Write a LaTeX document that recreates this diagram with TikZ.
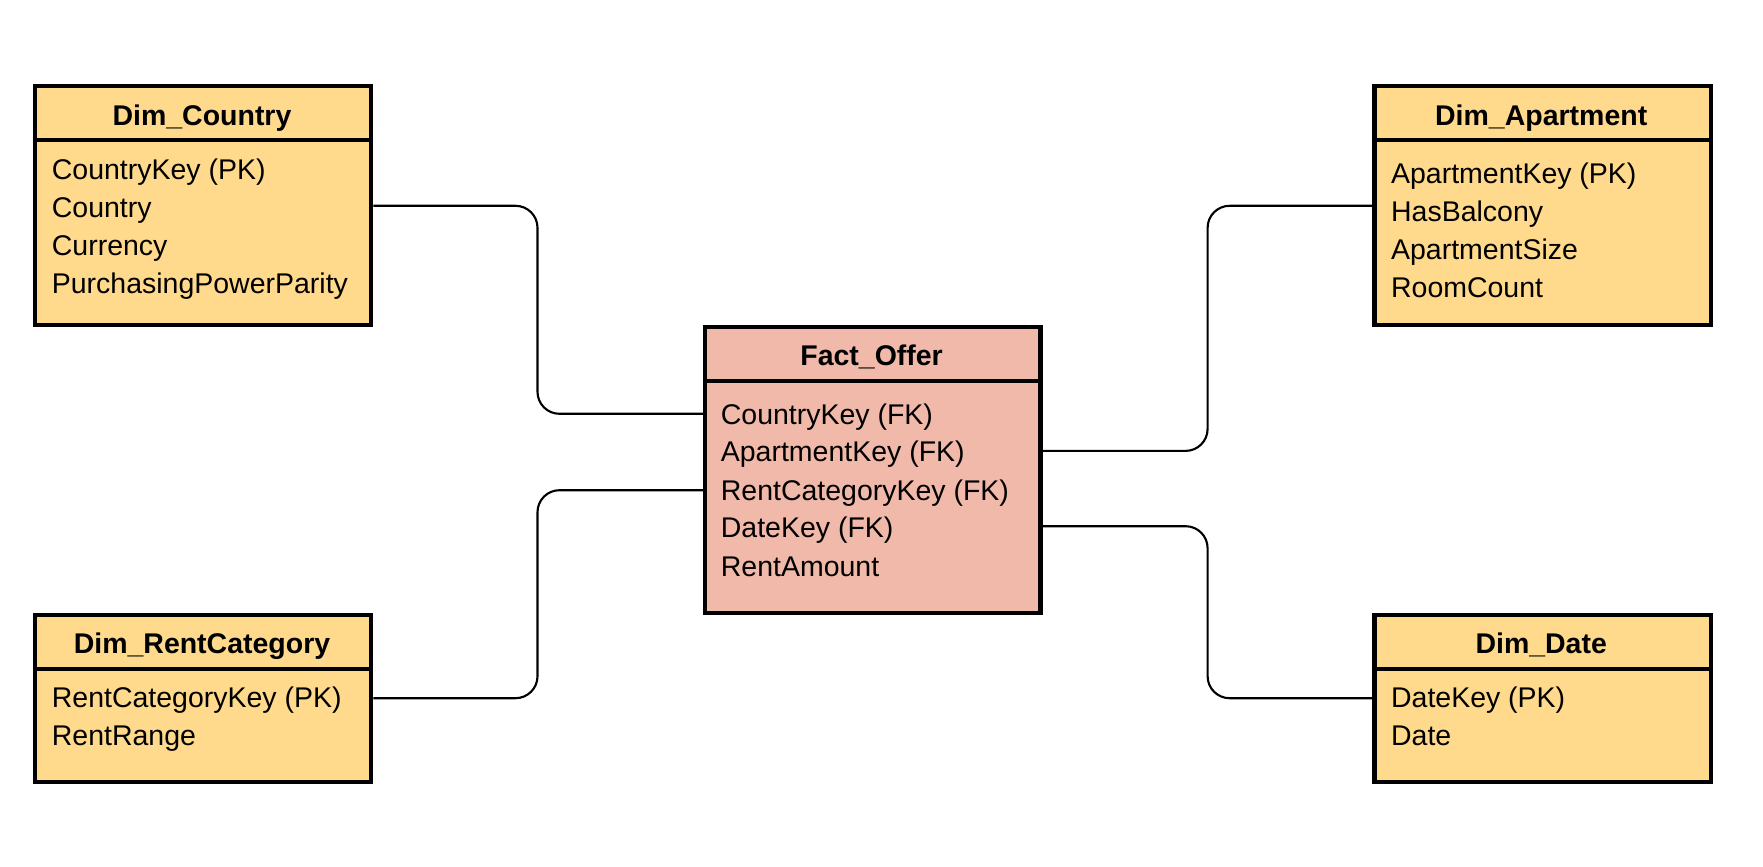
\documentclass[tikz,border=0pt]{standalone}
\usepackage{fontspec}
\setmainfont{Liberation Sans}
\usepackage{tikz}
\usepackage{xcolor}
\definecolor{dimfill}{HTML}{FFDA8C}
\definecolor{factfill}{HTML}{F0B9A9}

\begin{document}
\begin{tikzpicture}[x=0.01cm,y=-0.01cm,
  tbl/.style={draw,line width=1.2pt,anchor=north west,inner sep=0pt,minimum width=3.36cm},
  sep/.style={line width=1.2pt},
  ttl/.style={anchor=mid,inner sep=0pt,font=\bfseries\fontsize{8.1pt}{10pt}\selectfont},
  row/.style={anchor=mid west,inner sep=0pt,font=\fontsize{8.1pt}{10pt}\selectfont},
  link/.style={line width=0.6pt,rounded corners=0.22cm}]
  \useasboundingbox (0,0) rectangle (1763,867);
  \coordinate (jL) at (537.5,0);
  \coordinate (jR) at (1207.6,0);
  \coordinate (lvCty) at (0,205.8);
  \coordinate (lvFk1) at (0,413.8);
  \coordinate (lvFk2) at (0,450.9);
  \coordinate (lvFk3) at (0,490.2);
  \coordinate (lvFk4) at (0,526.2);
  \coordinate (lvLow) at (0,698.2);
  % tables
  \node[tbl,fill=dimfill,minimum height=2.39cm] (cty) at (33,84) {};
  \node[tbl,fill=dimfill,minimum height=2.39cm] (apt) at (1372.4,84) {};
  \node[tbl,fill=dimfill,minimum height=1.67cm] (rc) at (33,612.5) {};
  \node[tbl,fill=dimfill,minimum height=1.67cm] (dt) at (1372.4,612.5) {};
  \node[tbl,fill=factfill,minimum width=3.35cm,minimum height=2.86cm] (fact) at (703.2,324.7) {};
  \draw[sep] ([yshift=-0.562cm]cty.north west) -- ([yshift=-0.562cm]cty.north east);
  \draw[sep] ([yshift=-0.562cm]apt.north west) -- ([yshift=-0.562cm]apt.north east);
  \draw[sep] ([yshift=-0.562cm]rc.north west) -- ([yshift=-0.562cm]rc.north east);
  \draw[sep] ([yshift=-0.562cm]dt.north west) -- ([yshift=-0.562cm]dt.north east);
  \draw[sep] ([yshift=-0.562cm]fact.north west) -- ([yshift=-0.562cm]fact.north east);
  % titles
  \node[ttl] (ctyT) at (202,116) {Dim\_Country};
  \node[ttl] (aptT) at (1541.2,116) {Dim\_Apartment};
  \node[ttl] (rcT) at (202,644.5) {Dim\_RentCategory};
  \node[ttl] (dtT) at (1541.2,644.5) {Dim\_Date};
  \node[ttl] (factT) at (871.6,356.7) {Fact\_Offer};
  % columns
  \node[row] (cty1) at (51.2,170) {CountryKey (PK)};
  \node[row] (cty2) at (51.2,208.2) {Country};
  \node[row] (cty3) at (51.2,246.4) {Currency};
  \node[row] (cty4) at (51.2,284.6) {PurchasingPowerParity};
  \node[row] (apt1) at (1390.4,174) {ApartmentKey (PK)};
  \node[row] (apt2) at (1390.4,212.2) {HasBalcony};
  \node[row] (apt3) at (1390.4,250.4) {ApartmentSize};
  \node[row] (apt4) at (1390.4,288.6) {RoomCount};
  \node[row] (rc1) at (51.2,698) {RentCategoryKey (PK)};
  \node[row] (rc2) at (51.2,736.2) {RentRange};
  \node[row] (dt1) at (1390.4,698) {DateKey (PK)};
  \node[row] (dt2) at (1390.4,736.2) {Date};
  \node[row] (fk1) at (720.2,415) {CountryKey (FK)};
  \node[row] (fk2) at (720.2,452.5) {ApartmentKey (FK)};
  \node[row] (fk3) at (720.2,491.2) {RentCategoryKey (FK)};
  \node[row] (fk4) at (720.2,528.5) {DateKey (FK)};
  \node[row] (fk5) at (720.2,567.7) {RentAmount};
  % relations
  \draw[link] (cty.east |- lvCty) -- (jL |- lvCty) -- (jL |- lvFk1) -- (fact.west |- lvFk1);
  \draw[link] (rc.east |- lvLow) -- (jL |- lvLow) -- (jL |- lvFk3) -- (fact.west |- lvFk3);
  \draw[link] (fact.east |- lvFk2) -- (jR |- lvFk2) -- (jR |- lvCty) -- (apt.west |- lvCty);
  \draw[link] (fact.east |- lvFk4) -- (jR |- lvFk4) -- (jR |- lvLow) -- (dt.west |- lvLow);
\end{tikzpicture}
\end{document}
